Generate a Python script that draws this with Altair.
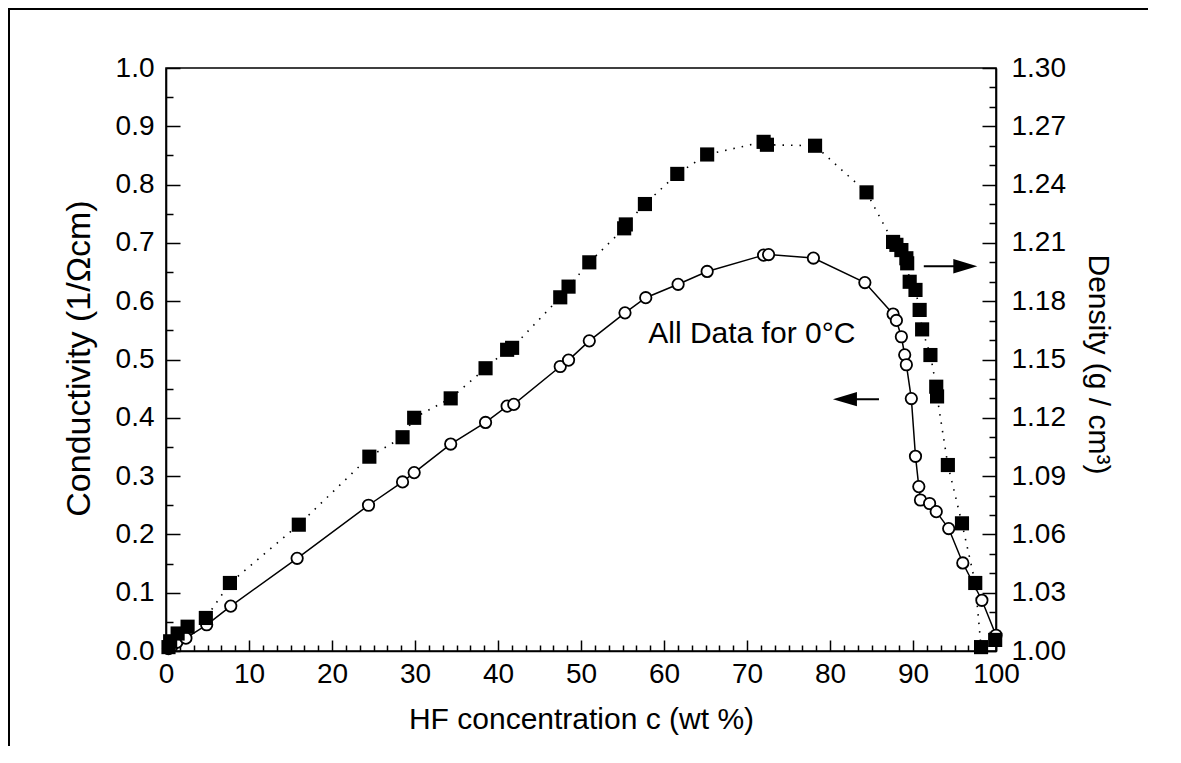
import altair as alt
import pandas as pd

# ---------------- data ----------------
# Conductivity (1/Ohm cm) -- open circles, solid line, left axis
cond_c = [0.3, 0.7, 1.3, 2.4, 4.9, 7.8, 15.8, 24.4, 28.5, 29.9, 34.3, 38.5, 41.1, 41.9,
          47.5, 48.5, 51.0, 55.3, 57.8, 61.7, 65.2, 72.0, 72.6, 78.0, 84.2, 87.6, 88.0,
          88.6, 89.0, 89.2, 89.8, 90.3, 90.7, 90.9, 92.0, 92.8, 94.3, 96.0, 98.3, 100.0]
cond_k = [0.004, 0.008, 0.015, 0.022, 0.045, 0.077, 0.159, 0.250, 0.290, 0.306, 0.355, 0.392,
          0.420, 0.423, 0.488, 0.499, 0.532, 0.580, 0.606, 0.629, 0.651, 0.679, 0.680, 0.674,
          0.632, 0.578, 0.567, 0.539, 0.508, 0.491, 0.433, 0.334, 0.282, 0.259, 0.253, 0.239,
          0.210, 0.151, 0.087, 0.027]

# Density (g/cm3) -- filled squares, dotted line, right axis
dens_c = [0.3, 0.5, 1.4, 2.6, 4.8, 7.7, 16.0, 24.5, 28.5, 29.9, 34.3, 38.5, 41.1, 41.7,
          47.5, 48.5, 51.0, 55.2, 55.4, 57.7, 61.6, 65.2, 72.0, 72.4, 78.2, 84.4, 87.6,
          88.0, 88.6, 89.2, 89.3, 89.6, 90.3, 90.8, 91.1, 92.1, 92.8, 92.9, 94.2, 95.9,
          97.5, 98.2, 99.9]
dens_d = [1.002, 1.005, 1.009, 1.0125, 1.017, 1.035, 1.065, 1.100, 1.110, 1.120, 1.130,
          1.1455, 1.155, 1.156, 1.182, 1.1875, 1.200, 1.2175, 1.2195, 1.230, 1.2455, 1.2555,
          1.262, 1.2605, 1.260, 1.236, 1.2105, 1.209, 1.2063, 1.2021, 1.1995, 1.190, 1.1858,
          1.1755, 1.1655, 1.1523, 1.136, 1.131, 1.0957, 1.0657, 1.035, 1.002, 1.0057]

# tick values
x_ticks = [0, 10, 20, 30, 40, 50, 60, 70, 80, 90, 100]
x_minor = [round(i * 10 / 6, 4) for i in range(61) if i % 6]
yl_ticks = [0.0, 0.1, 0.2, 0.3, 0.4, 0.5, 0.6, 0.7, 0.8, 0.9, 1.0]
yl_minor = [0.05, 0.15, 0.25, 0.35, 0.45, 0.55, 0.65, 0.75, 0.85, 0.95]
yr_ticks = [1.00, 1.03, 1.06, 1.09, 1.12, 1.15, 1.18, 1.21, 1.24, 1.27, 1.30]
yr_minor = [1.01, 1.02, 1.04, 1.05, 1.07, 1.08, 1.10, 1.11, 1.13, 1.14, 1.16, 1.17,
            1.19, 1.20, 1.22, 1.23, 1.25, 1.26, 1.28, 1.29]

# annotation
note_text = ["All Data for 0°C"]
note_c = [58.1]
note_k = [0.528]

# arrows (in conductivity coordinates)
arrow_c1 = [91.3, 85.9]
arrow_c2 = [96.3, 81.8]
arrow_k = [0.660, 0.432]
arrow_head = ["M-1,-0.6L1,0L-1,0.6Z", "M1,-0.6L-1,0L1,0.6Z"]

# ---------------- chart ----------------
W, H = 830, 583
FONT = "Liberation Sans"
LBL = 28

cond = pd.DataFrame({"c": cond_c, "k": cond_k})
dens = pd.DataFrame({"c": dens_c, "d": dens_d})
note = pd.DataFrame({"c": note_c, "k": note_k, "t": note_text})
arrows = pd.DataFrame({"c1": arrow_c1, "c2": arrow_c2, "k": arrow_k, "head": arrow_head})

def xs():
    return alt.Scale(domain=[0, 100], nice=False, zero=False)

def yls():
    return alt.Scale(domain=[0, 1], nice=False)

def yrs():
    return alt.Scale(domain=[1.0, 1.3], nice=False, zero=False)

def tick_axis(orient, offset, values, size):
    return alt.Axis(orient=orient, offset=offset, values=values, labels=False,
                    domain=False, ticks=True, tickSize=size, tickWidth=1.5,
                    tickColor="black", grid=False, title=None)

ax_bottom = alt.Axis(orient="bottom", values=x_ticks, ticks=False, tickSize=0,
                     domain=True, domainColor="black", domainWidth=1.6, grid=False,
                     labelFont=FONT, labelFontSize=LBL, labelColor="black",
                     labelPadding=9, labelFlush=False, labelOverlap=False,
                     title="HF concentration c (wt  %)", titleFont=FONT,
                     titleFontSize=30, titleFontWeight="normal", titleColor="black",
                     titleY=77, titleBaseline="alphabetic")
ax_left = alt.Axis(orient="left", values=yl_ticks, format=".1f", ticks=False, tickSize=0,
                   domain=True, domainColor="black", domainWidth=1.6, grid=False,
                   labelFont=FONT, labelFontSize=LBL, labelColor="black",
                   labelPadding=12, labelFlush=False, labelOverlap=False,
                   title="Conductivity (1/Ωcm)", titleFont=FONT, titleFontSize=34,
                   titleFontWeight="normal", titleColor="black", titleAngle=-90,
                   titleX=-77, titleY=290, titleBaseline="alphabetic")
ax_right = alt.Axis(orient="right", values=yr_ticks, format=".2f", ticks=False, tickSize=0,
                    domain=True, domainColor="black", domainWidth=1.6, grid=False,
                    labelFont=FONT, labelFontSize=LBL, labelColor="black",
                    labelPadding=15, labelFlush=False, labelOverlap=False,
                    title="Density (g / cm³)", titleFont=FONT, titleFontSize=30,
                    titleFontWeight="normal", titleColor="black", titleAngle=90,
                    titleX=92, titleY=296, titleBaseline="alphabetic")

cond_line = alt.Chart(cond).mark_line(color="black", strokeWidth=1.5).encode(
    x=alt.X("c:Q", scale=xs(), axis=ax_bottom),
    y=alt.Y("k:Q", scale=yls(), axis=ax_left),
)
cond_pts = alt.Chart(cond).mark_point(shape="circle", filled=True, fill="white",
                                       stroke="black", strokeWidth=1.8, size=130,
                                       opacity=1).encode(
    x=alt.X("c:Q", scale=xs(), axis=tick_axis("top", -H, x_ticks, 11)),
    y=alt.Y("k:Q", scale=yls(), axis=tick_axis("right", -W, yl_ticks, 14)),
)
cond_host = alt.Chart(cond).mark_point(opacity=0).encode(
    x=alt.X("c:Q", scale=xs(), axis=tick_axis("top", -H, x_minor, 6)),
    y=alt.Y("k:Q", scale=yls(), axis=tick_axis("right", -W, yl_minor, 7)),
)
dens_line = alt.Chart(dens).mark_line(color="black", strokeWidth=1.6,
                                      strokeDash=[1.5, 7]).encode(
    x=alt.X("c:Q", scale=xs(), axis=None),
    y=alt.Y("d:Q", scale=yrs(), axis=ax_right),
)
dens_pts = alt.Chart(dens).mark_point(shape="square", filled=True, color="black",
                                       size=200, opacity=1).encode(
    x=alt.X("c:Q", scale=xs(), axis=None),
    y=alt.Y("d:Q", scale=yrs(), axis=tick_axis("left", -W, yr_ticks, 14)),
)
dens_host = alt.Chart(dens).mark_point(opacity=0).encode(
    x=alt.X("c:Q", scale=xs(), axis=None),
    y=alt.Y("d:Q", scale=yrs(), axis=tick_axis("left", -W, yr_minor, 7)),
)
note_layer = alt.Chart(note).mark_text(font=FONT, fontSize=30, color="black",
                                        align="left", baseline="alphabetic").encode(
    x=alt.X("c:Q", scale=xs(), axis=None),
    y=alt.Y("k:Q", scale=yls(), axis=None),
    text="t:N",
)
arrow_lines = alt.Chart(arrows).mark_rule(color="black", strokeWidth=2).encode(
    x=alt.X("c1:Q", scale=xs(), axis=None),
    x2="c2:Q",
    y=alt.Y("k:Q", scale=yls(), axis=None),
)
arrow_heads = alt.Chart(arrows).mark_point(filled=True, color="black", size=576,
                                            opacity=1).encode(
    x=alt.X("c2:Q", scale=xs(), axis=None),
    y=alt.Y("k:Q", scale=yls(), axis=None),
    shape=alt.Shape("head:N", scale=None),
)

# page frame of the scanned figure
frame_top = alt.Chart(pd.DataFrame({"v": [0]})).mark_rule(color="black", strokeWidth=2).encode(
    x=alt.value(-158), x2=alt.value(982), y=alt.value(-59))
frame_left = alt.Chart(pd.DataFrame({"v": [0]})).mark_rule(color="black", strokeWidth=2).encode(
    x=alt.value(-157), y=alt.value(-60), y2=alt.value(H + 120))

chart = alt.layer(
    cond_line, dens_line, cond_host, dens_host, cond_pts, dens_pts,
    note_layer, arrow_lines, arrow_heads, frame_top, frame_left,
).resolve_scale(
    x="independent", y="independent"
).resolve_axis(
    x="independent", y="independent"
).properties(
    width=W, height=H,
    autosize=alt.AutoSizeParams(type="none"),
    padding={"left": 158, "top": 60, "right": 170, "bottom": 95},
    background="white",
).configure_view(
    stroke="black", strokeWidth=1.6
)

chart.save("out.html", embed_options={"renderer": "svg", "actions": False})
